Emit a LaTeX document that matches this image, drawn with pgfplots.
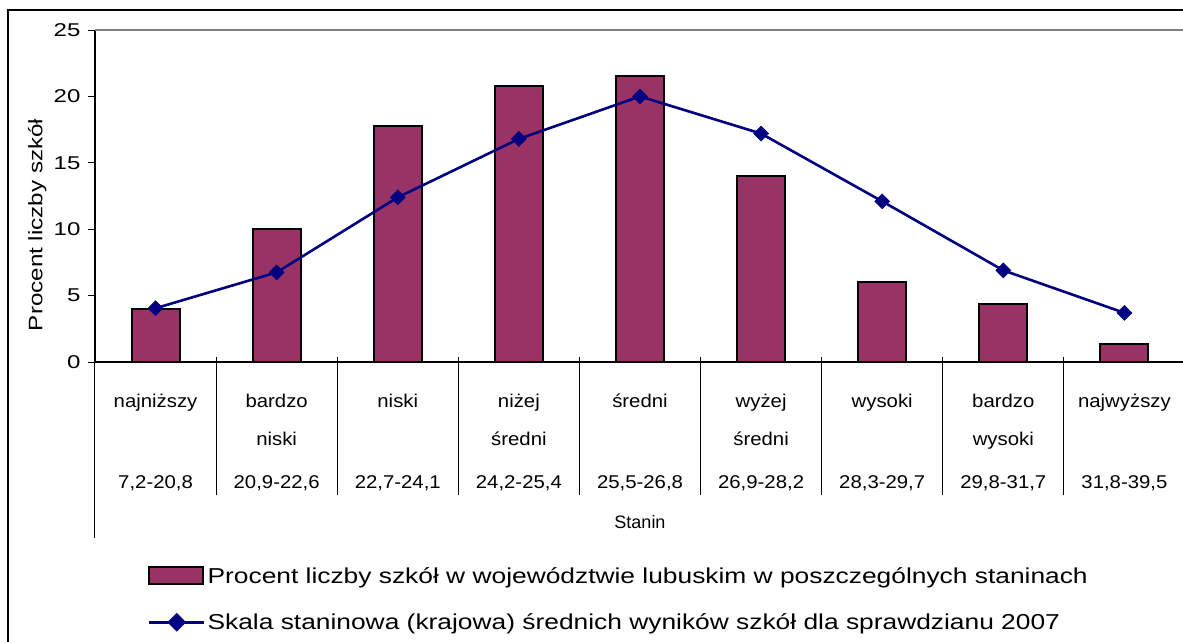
\documentclass[border=0pt]{standalone}
\usepackage{pgfplots}
\pgfplotsset{compat=1.18}
\usepackage{fontspec}
\setmainfont{Liberation Sans}
\newfontfamily\fTick[FakeStretch=1.3]{Liberation Sans}
\newfontfamily\fCat[FakeStretch=1.1]{Liberation Sans}
\newfontfamily\fLeg[FakeStretch=1.22]{Liberation Sans}
\newfontfamily\fYlab[FakeStretch=1.24]{Liberation Sans}
\definecolor{barcol}{HTML}{993366}
\definecolor{navy}{HTML}{000080}
\begin{document}
\begin{tikzpicture}
\useasboundingbox (0pt,0pt) rectangle (1183pt,-641pt);
\draw[line width=1.5pt] (8pt,-700pt) -- (8pt,-10pt) -- (1250pt,-10pt);
\begin{axis}[
  at={(95pt,-362pt)}, anchor=south west,
  scale only axis, width=1090pt, height=332pt,
  xmin=-0.5, xmax=8.5, ymin=0, ymax=25,
  separate axis lines,
  axis x line*=bottom, axis y line*=left,
  axis line style={line width=1.5pt, black, -},
  xtick={0,1,2,3,4,5,6,7,8},
  xticklabels={
    {\rule{0pt}{14pt}najniższy\\~\\[5pt]7,2-20,8},
    {\rule{0pt}{14pt}bardzo\\niski\\[5pt]20,9-22,6},
    {\rule{0pt}{14pt}niski\\~\\[5pt]22,7-24,1},
    {\rule{0pt}{14pt}niżej\\średni\\[5pt]24,2-25,4},
    {\rule{0pt}{14pt}średni\\~\\[5pt]25,5-26,8},
    {\rule{0pt}{14pt}wyżej\\średni\\[5pt]26,9-28,2},
    {\rule{0pt}{14pt}wysoki\\~\\[5pt]28,3-29,7},
    {\rule{0pt}{14pt}bardzo\\wysoki\\[5pt]29,8-31,7},
    {\rule{0pt}{14pt}najwyższy\\~\\[5pt]31,8-39,5}},
  xticklabel style={font=\fCat\fontsize{18.5}{38}\selectfont, align=center, anchor=north, yshift=-21pt},
  x tick style={draw=none},
  major tick length=7pt,
  tick align=outside,
  ytick={0,5,10,15,20,25},
  y tick style={line width=1pt, black},
  yticklabel style={font=\fTick\fontsize{18.5}{20}\selectfont, xshift=-4pt},
  /pgf/number format/assume math mode=true,
  xlabel={Stanin},
  xlabel style={font=\fontsize{18}{20}\selectfont, at={(axis description cs:0.5,-0.482)}, anchor=center},
  ylabel={Procent liczby szkół},
  ylabel style={font=\fYlab\fontsize{19.5}{22}\selectfont, at={(axis description cs:-0.053,0.413)}, anchor=center},
  legend style={draw=none, fill=none, at={(axis description cs:0.0486,-0.612)}, anchor=north west,
    inner sep=0pt, outer sep=0pt, row sep=25pt, font=\fLeg\fontsize{21.6}{23}\selectfont},
  legend cell align=left,
  clip=false,
]
\addplot[ybar, bar width=48pt, fill=barcol, draw=black, line width=2pt,
  legend image code/.code={\draw[fill=barcol,draw=black,line width=2pt] (0pt,-8.5pt) rectangle (54pt,8.5pt);}]
  coordinates {(0,4.0) (1,10.0) (2,17.8) (3,20.8) (4,21.5) (5,14.0) (6,6.0) (7,4.35) (8,1.35)};
\addlegendentry{Procent liczby szkół w województwie lubuskim w poszczególnych staninach}
\addplot[color=navy, line width=2.6pt, mark=square*, mark size=5.3pt, mark options={fill=navy, rotate=45, line width=0.5pt},
  legend image code/.code={\draw[navy,line width=2.6pt] (0pt,0pt) -- (55pt,0pt);
    \fill[navy] (27.5pt,7.5pt) -- (35pt,0pt) -- (27.5pt,-7.5pt) -- (20pt,0pt) -- cycle;}]
  coordinates {(0,4.05) (1,6.75) (2,12.4) (3,16.8) (4,20.0) (5,17.2) (6,12.1) (7,6.9) (8,3.7)};
\addlegendentry{Skala staninowa (krajowa) średnich wyników szkół dla sprawdzianu 2007}
\draw[gray, line width=2.2pt] (rel axis cs:0,1) -- (rel axis cs:1,1);
\draw[line width=1pt] (axis cs:-0.5,0) -- ++(0pt,-176pt);
\pgfplotsinvokeforeach{0.5,1.5,2.5,3.5,4.5,5.5,6.5,7.5,8.5}{
  \draw[line width=1pt] (axis cs:#1,0) ++(0pt,5pt) -- ++(0pt,-138pt);
}
\end{axis}
\end{tikzpicture}
\end{document}
